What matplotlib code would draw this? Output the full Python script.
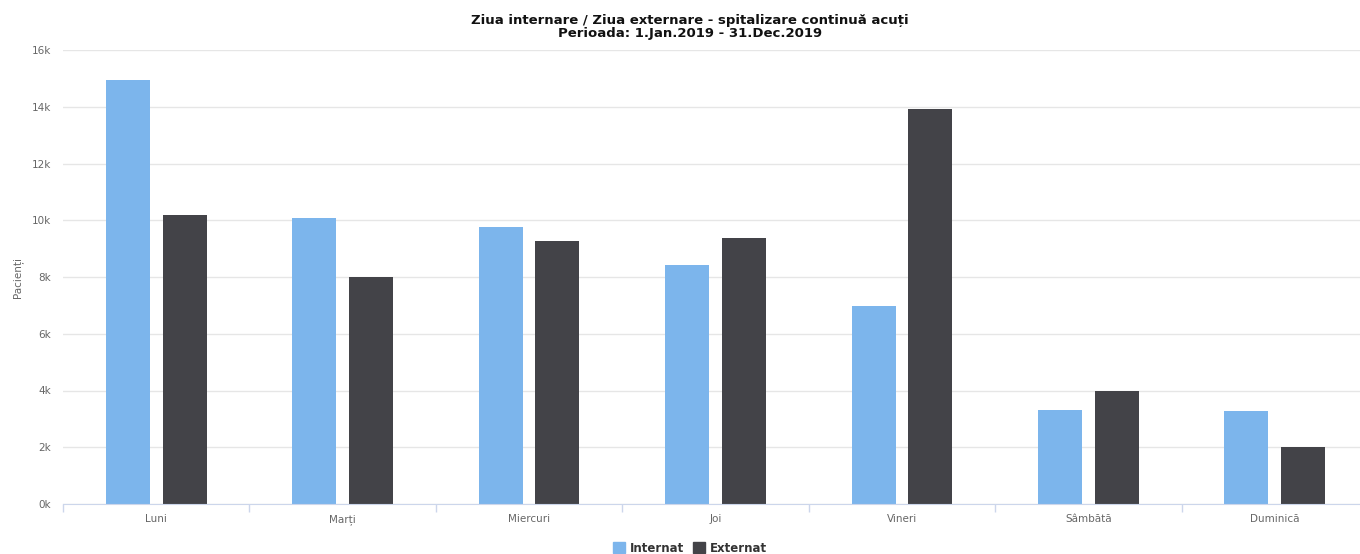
import numpy as np
import matplotlib.pyplot as plt
from matplotlib.patches import Patch

# Date
zile = ['Luni', 'Marți', 'Miercuri', 'Joi', 'Vineri', 'Sâmbătă', 'Duminică']
internat = [14950, 10080, 9760, 8420, 6980, 3310, 3280]
externat = [10190, 8000, 9270, 9370, 13920, 3980, 2010]
y_ticks = [0, 2000, 4000, 6000, 8000, 10000, 12000, 14000, 16000]
y_labels = ['0k', '2k', '4k', '6k', '8k', '10k', '12k', '14k', '16k']

col_int = '#7cb5ec'
col_ext = '#434348'

plt.rcParams['font.family'] = ['DejaVu Sans']

fig = plt.figure(figsize=(13.6, 5.54), dpi=100)
# the plot area runs a little past the right edge of the picture
ax = fig.add_axes([63 / 1360, 50 / 554, (1368 - 63) / 1360, (504 - 50) / 554])

x = np.arange(len(zile))
w = 0.236
off = 0.152
ax.bar(x - off, internat, width=w, color=col_int, zorder=2)
ax.bar(x + off, externat, width=w, color=col_ext, zorder=2)

ax.set_xlim(-0.5, len(zile) - 0.5)
ax.set_ylim(0, 16000)

# Grid
ax.set_yticks(y_ticks)
ax.set_yticklabels(y_labels, fontsize=7.5, color='#666666')
ax.yaxis.grid(True, color='#e6e6e6', linewidth=1, zorder=0)
ax.tick_params(axis='y', length=0, pad=8.5)

# Category labels and boundary ticks
ax.set_xticks(x)
ax.set_xticklabels(zile, fontsize=7.5, color='#666666')
ax.tick_params(axis='x', which='major', length=0, pad=7)
ax.set_xticks(np.arange(len(zile) + 1) - 0.5, minor=True)
ax.tick_params(axis='x', which='minor', length=5.5, color='#ccd6eb', width=1)

for s in ['top', 'right', 'left']:
    ax.spines[s].set_visible(False)
ax.spines['bottom'].set_color('#ccd6eb')

fig.text(0.009, (554 - 277) / 554, 'Pacienți', rotation=90, fontsize=7.5,
         color='#666666', ha='left', va='center')

fig.text(690 / 1360, 1 - 27 / 554,
         'Ziua internare / Ziua externare - spitalizare continuă acuți\nPerioada: 1.Jan.2019 - 31.Dec.2019',
         ha='center', va='center', fontsize=9.5, fontweight='bold', color='#111111',
         linespacing=1.05)

handles = [Patch(color=col_int, label='Internat'), Patch(color=col_ext, label='Externat')]
fig.legend(handles=handles, loc='center', bbox_to_anchor=(690 / 1360, 1 - 548 / 554),
           ncol=2, frameon=False, handlelength=1.0, handleheight=1.0,
           handletextpad=0.4, columnspacing=0.8,
           prop={'size': 8.5, 'weight': 'bold'}, labelcolor='#333333')

plt.savefig('out.png', dpi=100)
